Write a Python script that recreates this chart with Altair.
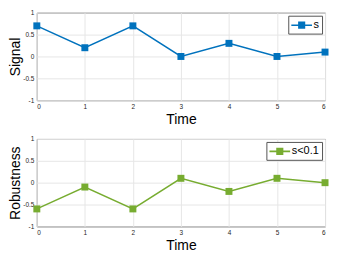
import altair as alt
import pandas as pd

time = [0, 1, 2, 3, 4, 5, 6]
signal = [0.7, 0.2, 0.7, 0.0, 0.3, 0.0, 0.1]
robustness = [-0.6, -0.1, -0.6, 0.1, -0.2, 0.1, 0.0]
signal_name = "s"
rob_name = "s<0.1"
y_ticks = [-1, -0.5, 0, 0.5, 1]
x_ticks = [0, 1, 2, 3, 4, 5, 6]

BLUE = "#0072BD"
GREEN = "#77AC30"
FONT = "Liberation Sans"
SYM = "M-1.6,-0.12H1.6V0.12H-1.6Z M-0.55,-0.55H0.55V0.55H-0.55Z"

W, H = 290, 88


def panel(values, name, color, ytitle, field):
    df = pd.DataFrame({"Time": time, "v": values, field: [name] * len(time)})
    x = alt.X("Time:Q", scale=alt.Scale(domain=[0, 6], nice=False),
              axis=alt.Axis(values=x_ticks, title="Time", grid=True, ticks=False,
                            domain=False, labelFontSize=6.5, labelPadding=3,
                            titleFontSize=14, titlePadding=3, titleFontWeight="normal"))
    y = alt.Y("v:Q", scale=alt.Scale(domain=[-1, 1], nice=False),
              axis=alt.Axis(values=y_ticks, title=ytitle, grid=True, ticks=False,
                            domain=False, labelFontSize=6.5, labelPadding=3,
                            labelExpr="'' + datum.value",
                            titleFontSize=14, titlePadding=0, titleFontWeight="normal"))
    base = alt.Chart(df)
    line = base.mark_line(strokeWidth=1.5).encode(
        x=x, y=y,
        color=alt.Color(f"{field}:N", scale=alt.Scale(domain=[name], range=[color]),
                        legend=alt.Legend(title=None, orient="top-right", offset=3,
                                          symbolType=SYM, symbolSize=169,
                                          symbolOffset=4, labelOffset=5.5,
                                          symbolFillColor=color, symbolStrokeColor=color,
                                          symbolStrokeWidth=0,
                                          labelFontSize=11, labelFont=FONT,
                                          labelColor="#000000",
                                          strokeColor="#555555", fillColor="white",
                                          padding=3, cornerRadius=0)),
    )
    pts = base.mark_point(shape="square", filled=True, size=49, opacity=1).encode(
        x=x, y=y, color=alt.value(color))
    return alt.layer(line, pts).properties(width=W, height=H)


top = panel(signal, signal_name, BLUE, "Signal", "sig")
bottom = panel(robustness, rob_name, GREEN, "Robustness", "rob")

chart = alt.vconcat(top, bottom, spacing=8).resolve_scale(
    color="independent"
).resolve_legend(
    color="independent"
).properties(
    padding={"left": 0, "top": 0, "right": 0, "bottom": 0}
).configure_view(
    stroke="#444444", strokeWidth=1
).configure_axis(
    labelFont=FONT, titleFont=FONT, labelColor="#262626", titleColor="#000000",
    gridColor="#e6e6e6", gridWidth=1
)

chart.save("out.html", embed_options={"renderer": "svg", "actions": False})
